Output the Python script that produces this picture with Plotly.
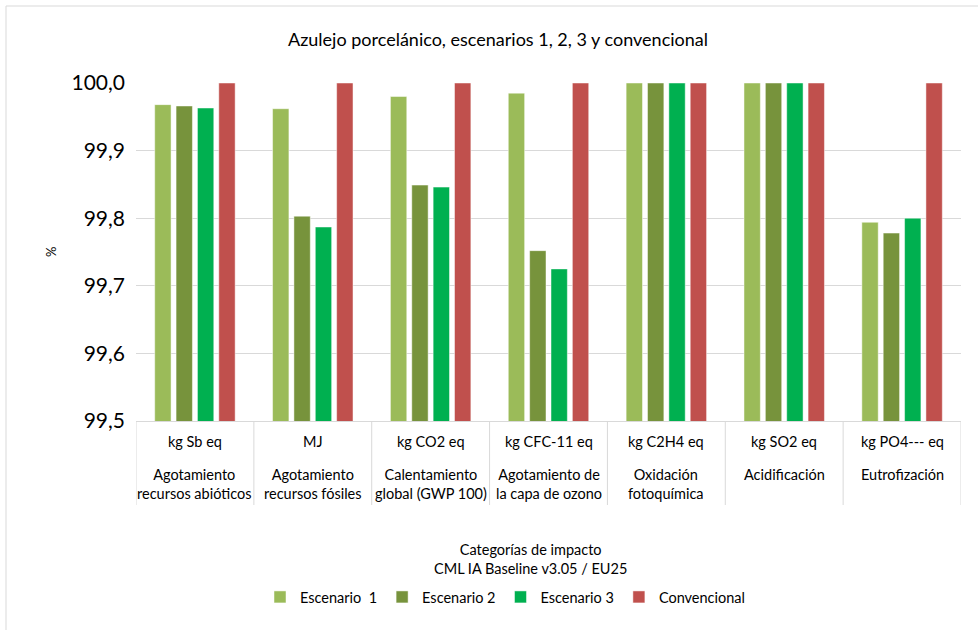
import plotly.graph_objects as go

# Impact categories: unit (first row) and category name (second row)
units = ["kg Sb eq", "MJ", "kg CO2 eq", "kg CFC-11 eq", "kg C2H4 eq", "kg SO2 eq", "kg PO4--- eq"]
categories = [
    "Agotamiento<br>recursos abióticos",
    "Agotamiento<br>recursos fósiles",
    "Calentamiento<br>global (GWP 100)",
    "Agotamiento de<br>la capa de ozono",
    "Oxidación<br>fotoquímica",
    "Acidificación",
    "Eutrofización",
]

# Relative impact (%) per scenario
escenario_1 = [99.968, 99.962, 99.980, 99.985, 100.0, 100.0, 99.794]
escenario_2 = [99.966, 99.803, 99.849, 99.752, 100.0, 100.0, 99.778]
escenario_3 = [99.963, 99.787, 99.846, 99.725, 100.0, 100.0, 99.800]
convencional = [100.0, 100.0, 100.0, 100.0, 100.0, 100.0, 100.0]

series = [
    ("Escenario  1", escenario_1, "#9BBB59"),
    ("Escenario 2", escenario_2, "#77933C"),
    ("Escenario 3", escenario_3, "#00B050"),
    ("Convencional", convencional, "#C0504D"),
]

y_ticks = [99.5, 99.6, 99.7, 99.8, 99.9, 100.0]
y_tick_text = [f"{v:.1f}".replace(".", ",") for v in y_ticks]

FONT = "Lato, 'Open Sans', sans-serif"
W, H = 978, 630
ML, MR, MT, MB = 136, 17, 83, 209
plot_w = W - ML - MR
plot_h = H - MT - MB

def py(px):
    """Convert a pixel offset below the plot bottom into paper y."""
    return -px / plot_h

def px_x(x):
    """Convert an absolute pixel x into paper x."""
    return (x - ML) / plot_w

fig = go.Figure()
for name, vals, color in series:
    fig.add_trace(go.Bar(
        x=units, y=vals, name=name,
        marker=dict(color=color, line=dict(color="rgba(255,255,255,0.6)", width=0.8)),
    ))

annotations = []
shapes = []
for u, c in zip(units, categories):
    annotations.append(dict(x=u, xref="x", y=py(20), yref="paper", text=u,
                            showarrow=False, yanchor="middle",
                            font=dict(family=FONT, size=14.5, color="#000")))
    annotations.append(dict(x=u, xref="x", y=py(43), yref="paper", text=c,
                            showarrow=False, yanchor="top",
                            font=dict(family=FONT, size=14.5, color="#000")))

# Divider lines for the category table below the axis
for i in range(len(units) + 1):
    shapes.append(dict(type="line", xref="x", yref="paper",
                       x0=i - 0.5, x1=i - 0.5, y0=0, y1=py(84),
                       line=dict(color="#D9D9D9", width=1)))

# Chart area border
shapes.append(dict(type="rect", xref="paper", yref="paper",
                   x0=px_x(6), x1=1.5,
                   y0=-2, y1=1 + (MT - 6) / plot_h,
                   line=dict(color="#D9D9D9", width=1)))

# Axis title
annotations.append(dict(x=px_x(530), xref="paper", y=py(138), yref="paper",
                        text="Categorías de impacto<br>CML IA Baseline v3.05 / EU25",
                        showarrow=False, xanchor="center", yanchor="middle",
                        font=dict(family=FONT, size=14.5, color="#000")))
# Y axis label
annotations.append(dict(x=px_x(51), xref="paper", y=0.5, yref="paper",
                        text="%", showarrow=False, textangle=-90,
                        xanchor="center", yanchor="middle",
                        font=dict(family=FONT, size=13, color="#000")))

fig.update_layout(
    width=W, height=H,
    margin=dict(l=ML, r=MR, t=MT, b=MB, autoexpand=False),
    paper_bgcolor="white", plot_bgcolor="white",
    title=dict(text="Azulejo porcelánico, escenarios 1, 2, 3 y convencional",
               x=498 / W, xanchor="center", y=1 - 40 / H, yanchor="middle",
               font=dict(family=FONT, size=18, color="#000")),
    barmode="group", bargap=0.275, bargroupgap=0.234,
    xaxis=dict(type="category", showticklabels=False, ticks="",
               showline=True, linecolor="#D9D9D9", linewidth=1,
               showgrid=False, zeroline=False, range=[-0.5, len(units) - 0.5]),
    yaxis=dict(range=[99.5, 100.0], tickvals=y_ticks, ticktext=y_tick_text,
               showgrid=True, gridcolor="#D9D9D9", gridwidth=1,
               showline=False, zeroline=False, ticks="", ticklabelstandoff=10,
               tickfont=dict(family=FONT, size=21, color="#000")),
    legend=dict(orientation="h", x=px_x(505), xanchor="center",
                y=py(176), yanchor="middle",
                font=dict(family=FONT, size=14.5, color="#000"),
                itemwidth=30, traceorder="normal", tracegroupgap=0),
    annotations=annotations, shapes=shapes,
    showlegend=True,
)

fig.write_html("out.html")
